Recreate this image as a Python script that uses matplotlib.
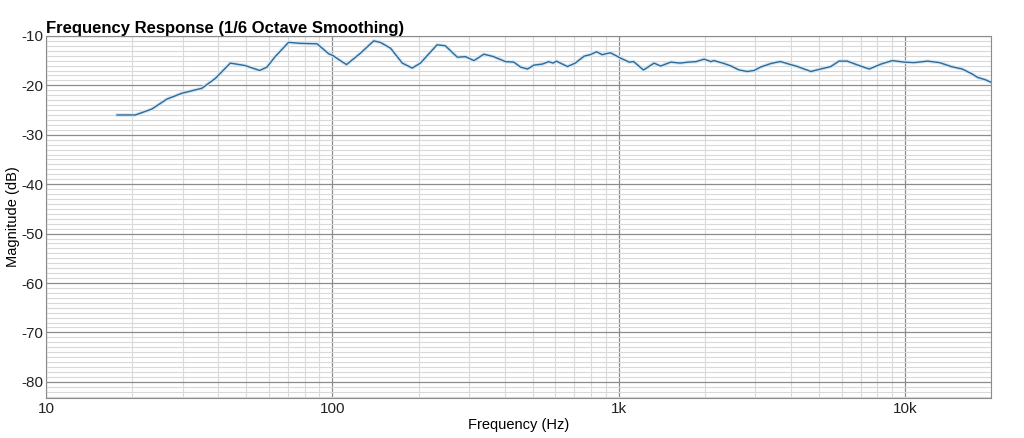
import numpy as np
import matplotlib.pyplot as plt
from matplotlib.ticker import FixedLocator, MultipleLocator, NullFormatter

# Curve (Hz, dB)
freq = [17.7, 20.5, 23.4, 26.4, 29.8, 35.0, 39.0, 44.0, 49.6, 55.7, 59.1, 63.1,
        70.3, 77.3, 88.4, 97, 100.6, 106.6, 112, 125.3, 139.4, 147, 159.7, 175.4,
        190, 203, 232, 248, 273, 292, 312, 338, 366, 402, 430, 454, 480, 506,
        541, 569, 590, 606, 662, 705, 757, 795, 837, 875, 935, 1016, 1087, 1128,
        1220, 1329, 1400, 1520, 1637, 1750, 1865, 1986, 2100, 2150, 2310, 2470,
        2634, 2813, 2970, 3130, 3395, 3577, 3680, 3930, 4214, 4690, 5070, 5505,
        5877, 6280, 6840, 7500, 8240, 9020, 9930, 10750, 11990, 13200, 14490,
        15840, 17030, 17940, 19140, 20000]
mag = [-26.0, -26.0, -24.8, -22.8, -21.6, -20.6, -18.6, -15.5, -16.0, -17.0, -16.3, -14.2,
       -11.3, -11.5, -11.6, -13.6, -14.0, -15.0, -15.8, -13.5, -11.0, -11.3, -12.5, -15.5,
       -16.5, -15.5, -11.8, -12.0, -14.3, -14.2, -15.0, -13.7, -14.2, -15.2, -15.3, -16.3, -16.7, -15.9,
       -15.7, -15.2, -15.5, -15.1, -16.2, -15.5, -14.1, -13.8, -13.2, -13.8, -13.4, -14.5, -15.3, -15.2,
       -16.9, -15.5, -16.1, -15.3, -15.5, -15.3, -15.2, -14.7, -15.2, -15.0, -15.5, -16.1,
       -16.9, -17.2, -17.0, -16.3, -15.6, -15.3, -15.2, -15.7, -16.2, -17.2, -16.7, -16.2,
       -15.1, -15.1, -15.9, -16.7, -15.7, -15.0, -15.3, -15.4, -15.1, -15.4, -16.2,
       -16.7, -17.6, -18.4, -18.9, -19.4]

xticks = [10, 100, 1000, 10000]
xlabels = ["10", "100", "1k", "10k"]
yticks = [-10, -20, -30, -40, -50, -60, -70, -80]

plt.rcParams['font.family'] = ['Liberation Sans', 'DejaVu Sans']
plt.rcParams['axes.unicode_minus'] = False

fig = plt.figure(figsize=(10.24, 4.38), dpi=100)
ax = fig.add_axes([0.045, 0.091, 0.923, 0.827])

ax.plot(freq, mag, color="#d6e7f4", linewidth=2.6, solid_joinstyle="round")
ax.plot(freq, mag, color="#2c6a98", linewidth=1.0, solid_joinstyle="round")

ax.set_xscale("log")
ax.set_xlim(10, 20000)
ax.set_ylim(-83.3, -10)

ax.xaxis.set_major_locator(FixedLocator(xticks))
ax.set_xticklabels(xlabels)
ax.xaxis.set_minor_locator(FixedLocator(
    [m * d for d in [10, 100, 1000, 10000] for m in range(2, 10) if m * d <= 20000]))
ax.xaxis.set_minor_formatter(NullFormatter())
ax.yaxis.set_major_locator(FixedLocator(yticks))
ax.yaxis.set_minor_locator(MultipleLocator(1))

ax.grid(which="major", color="#8c8c8c", linewidth=0.9)
ax.grid(which="minor", color="#d9d9d9", linewidth=0.8)
ax.set_axisbelow(True)
ax.tick_params(which="both", length=0, labelsize=11, colors="#222222")
ax.tick_params(axis="y", pad=2)
ax.tick_params(axis="x", pad=3)
for s in ax.spines.values():
    s.set_color("#8c8c8c")

ax.set_xlabel("Frequency (Hz)", fontsize=10.5, labelpad=1)
ax.set_ylabel("Magnitude (dB)", fontsize=10.5, labelpad=1)
ax.set_title("Frequency Response (1/6 Octave Smoothing)", loc="left",
             fontsize=12, fontweight="bold", pad=2)

fig.savefig("out.png", dpi=100)
